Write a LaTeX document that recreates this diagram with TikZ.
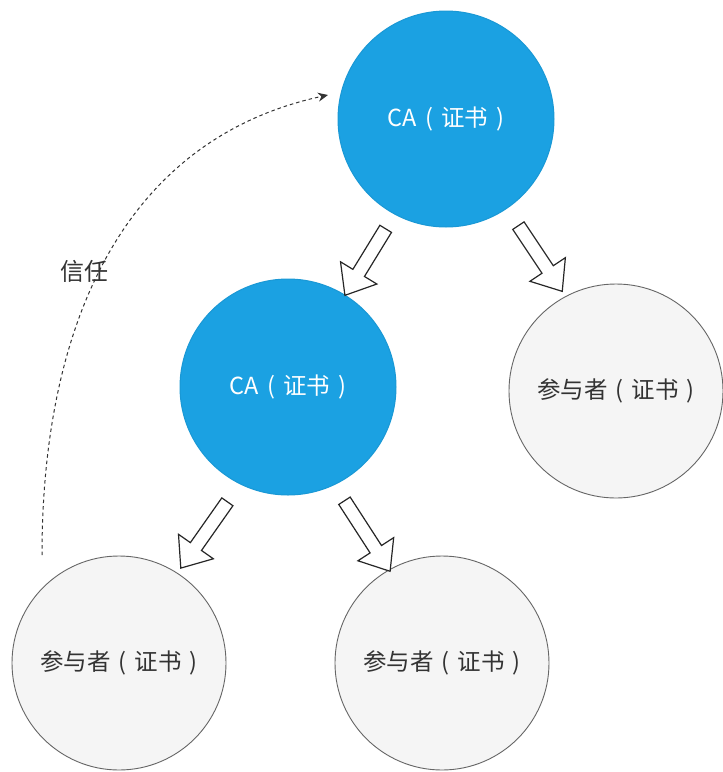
\documentclass[tikz,border=0pt]{standalone}
\usepackage{fontspec}
\setmainfont{Noto Sans CJK SC}
\usetikzlibrary{shapes.arrows,arrows.meta}
\definecolor{caBlue}{HTML}{1BA1E2}
\definecolor{caEdge}{HTML}{1A98D5}
\definecolor{memberFill}{HTML}{F5F5F5}
\definecolor{memberEdge}{HTML}{666666}
\definecolor{memberText}{HTML}{333333}
% bracketed certificate note with open spacing around the parentheses
\newcommand{\certnote}{\hspace{0.34em}(\hspace{0.34em}证书\hspace{0.34em})}
\tikzset{
  ca/.style={circle, minimum size=216pt, inner sep=0pt, fill=caBlue, draw=caEdge,
    line width=1pt, text=white, font=\fontsize{23.5pt}{27pt}\selectfont},
  member/.style={circle, minimum size=214pt, inner sep=0pt, fill=memberFill, draw=memberEdge,
    line width=0.9pt, text=memberText, font=\fontsize{23.5pt}{27pt}\selectfont},
  blockarrow/.style={single arrow, draw=black!85, fill=white, line width=1.2pt,
    inner sep=6.2pt, single arrow head extend=14.5pt, single arrow tip angle=78,
    anchor=center},
  trust/.style={dash pattern=on 3.5pt off 3pt, line width=1pt, black!80,
    -{Stealth[length=10pt,width=9pt]}},
  label/.style={text=memberText, font=\fontsize{24pt}{28pt}\selectfont}
}
\begin{document}
\begin{tikzpicture}[x=1pt,y=-1pt]
  \useasboundingbox (0,0) rectangle (723,772);

  % certificate authorities
  \node[ca] (rootca) at (446,119) {CA\certnote};
  \node[ca] (subca) at (288,387) {CA\certnote};

  % participants
  \node[member] (memright) at (616,391) {参与者\certnote};
  \node[member] (memleft) at (119,663) {参与者\certnote};
  \node[member] (memmid) at (442,663) {参与者\certnote};

  % issuing arrows
  \node[blockarrow, rotate=238.5, minimum height=78pt] (a1) at (367.5,258.5) {};
  \node[blockarrow, rotate=303.7, minimum height=79pt] (a2) at (538,255) {};
  \node[blockarrow, rotate=234.9, minimum height=81pt] (a3) at (206.5,531.5) {};
  \node[blockarrow, rotate=302.9, minimum height=84pt] (a4) at (365,532.5) {};

  % trust relation back to the root
  \coordinate (trustfrom) at (42,555);
  \coordinate (trustto) at (328,95);
  \draw[trust] (trustfrom) .. controls (42,330) and (120,140) .. (trustto);
  \node[label] (trustlabel) at (84,271) {信任};
\end{tikzpicture}
\end{document}
